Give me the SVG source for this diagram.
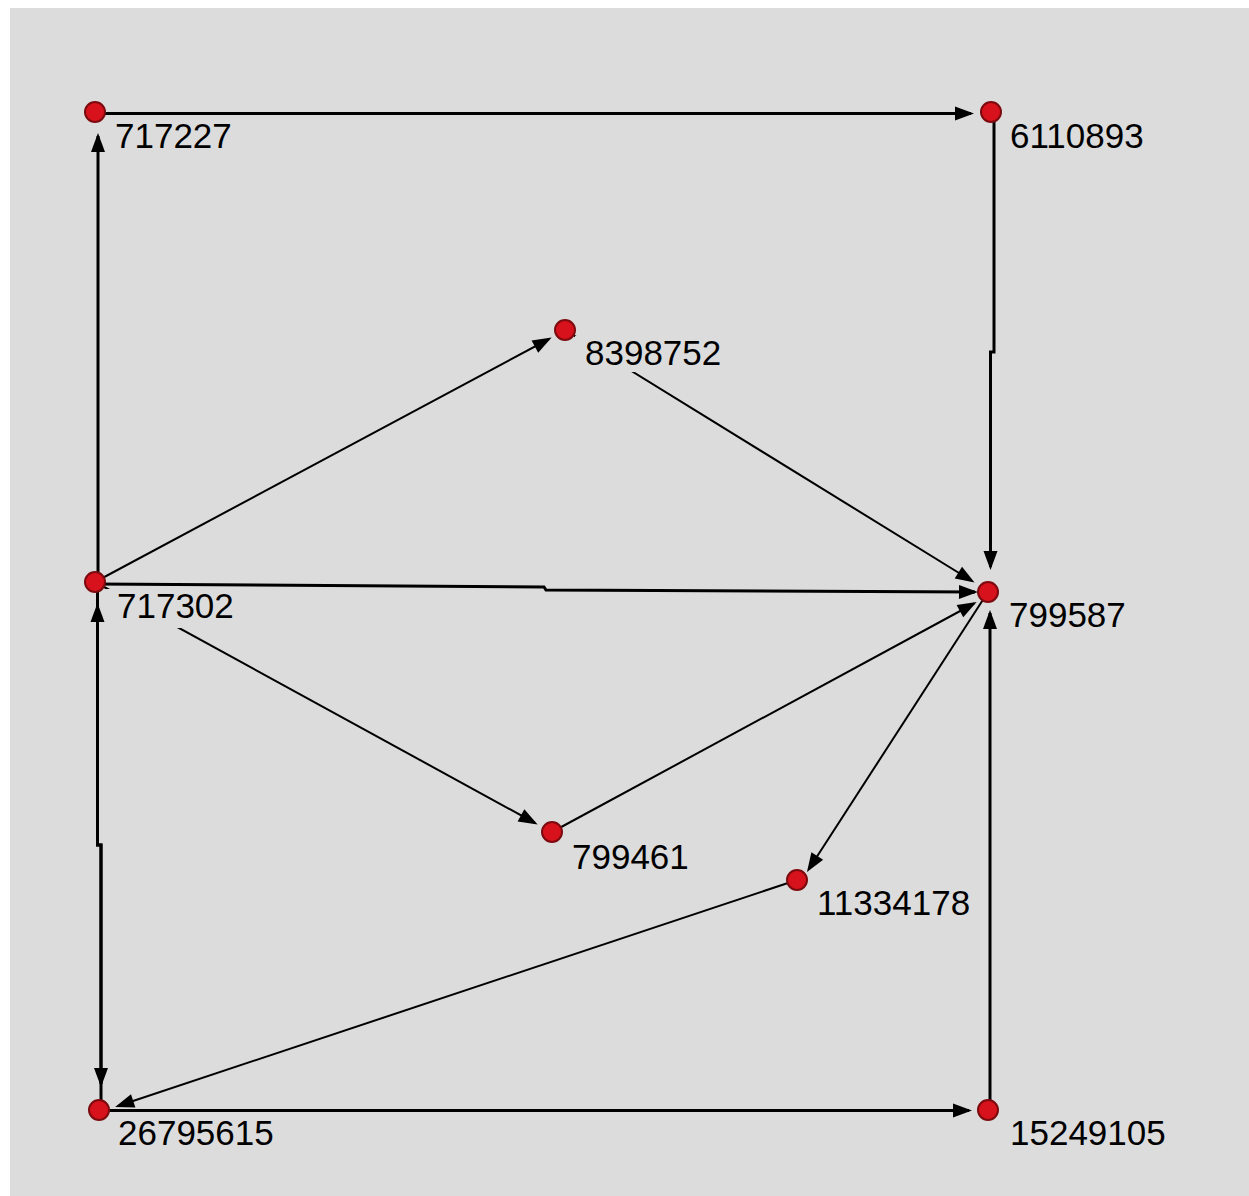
<svg xmlns="http://www.w3.org/2000/svg" width="1249" height="1196" viewBox="0 0 1249 1196">
  <style>
    .edge { fill: none; stroke: #000; marker-end: url(#arrow); }
    .thick { stroke-width: 3; }
    .thin { stroke-width: 2; }
    .dot { fill: #d8121c; stroke: #7c0a0e; stroke-width: 2; }
    .lblbg { fill: #dcdcdc; }
    .lbl { font-family: "Liberation Sans", Arial, sans-serif; font-size: 35px; fill: #000; }
  </style>
  <defs>
    <marker id="arrow" markerUnits="userSpaceOnUse" viewBox="-17 -8 21 16" markerWidth="21" markerHeight="16" refX="0" refY="0" orient="auto">
      <path d="M3,0 L-16,-7 L-16,7 Z" fill="#000"/>
    </marker>
  </defs>

  <!-- canvas -->
  <rect x="0" y="0" width="1249" height="1196" fill="#ffffff"/>
  <rect x="10" y="8" width="1239" height="1188" fill="#dcdcdc"/>

  <!-- connectors -->
  <g id="connectors">
    <path class="edge thick" d="M95,113.5 L971,113.5"/>
    <path class="edge thick" d="M994,113 V352 H990.5 V567"/>
    <path class="edge thick" d="M98,582 V136"/>
    <path class="edge thick" d="M101,1110 V845 H97.5 V606"/>
    <path class="edge thick" d="M97.5,582 V845 H101 V1084"/>
    <path class="edge thin" d="M797,880 L118,1106"/>
    <path class="edge thick" d="M99,1110.5 L969,1110.5"/>
    <path class="edge thick" d="M990,1110 V613"/>
    <path class="edge thin" d="M95,582 L549,339"/>
    <path class="edge thin" d="M565,330 L972,581"/>
    <path class="edge thick" d="M95,584 L544,587 L546,590 L975,592"/>
    <path class="edge thin" d="M552,832 L974,603.5"/>
    <path class="edge thin" d="M988,592 L808.6,869.5"/>
    <path class="edge thin" d="M95,582 L535,823"/>
  </g>

  <!-- nodes -->
  <g id="n717227">
    <rect class="lblbg" x="112" y="118" width="124" height="36"/>
    <text class="lbl" x="115" y="148">717227</text>
    <circle class="dot" cx="95" cy="112" r="10"/>
  </g>
  <g id="n6110893">
    <rect class="lblbg" x="1007" y="118" width="146" height="36"/>
    <text class="lbl" x="1010" y="148">6110893</text>
    <circle class="dot" cx="991" cy="112" r="10"/>
  </g>
  <g id="n8398752">
    <rect class="lblbg" x="575" y="336" width="152" height="36"/>
    <text class="lbl" x="585" y="365">8398752</text>
    <circle class="dot" cx="565" cy="330" r="10"/>
  </g>
  <g id="n717302">
    <rect class="lblbg" x="106" y="589" width="132" height="39"/>
    <text class="lbl" x="117" y="618">717302</text>
    <circle class="dot" cx="95" cy="582" r="10"/>
  </g>
  <g id="n799587">
    <rect class="lblbg" x="1006" y="598" width="126" height="36"/>
    <text class="lbl" x="1009" y="627">799587</text>
    <circle class="dot" cx="988" cy="592" r="10"/>
  </g>
  <g id="n799461">
    <rect class="lblbg" x="569" y="840" width="124" height="36"/>
    <text class="lbl" x="572" y="869">799461</text>
    <circle class="dot" cx="552" cy="832" r="10"/>
  </g>
  <g id="n11334178">
    <rect class="lblbg" x="815" y="886" width="162" height="36"/>
    <text class="lbl" x="817" y="915">11334178</text>
    <circle class="dot" cx="797" cy="880" r="10"/>
  </g>
  <g id="n26795615">
    <rect class="lblbg" x="116" y="1116" width="162" height="36"/>
    <text class="lbl" x="118" y="1145">26795615</text>
    <circle class="dot" cx="99" cy="1110" r="10"/>
  </g>
  <g id="n15249105">
    <rect class="lblbg" x="1007" y="1116" width="162" height="36"/>
    <text class="lbl" x="1010" y="1145">15249105</text>
    <circle class="dot" cx="988" cy="1110" r="10"/>
  </g>
</svg>
